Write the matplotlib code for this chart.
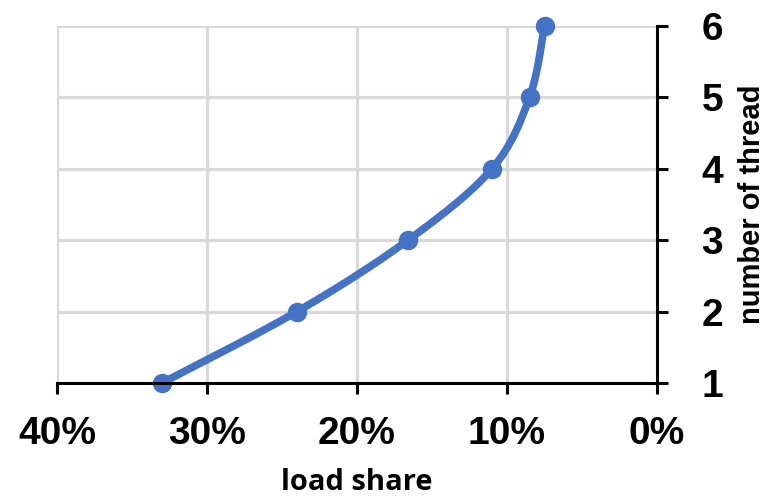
import numpy as np
import matplotlib
matplotlib.use("Agg")
import matplotlib.pyplot as plt
from matplotlib.ticker import FuncFormatter

# ─── data ─────────────────────────────────────────────────────────────────────
load_share = [0.330, 0.240, 0.166, 0.110, 0.085, 0.075]
threads = [1, 2, 3, 4, 5, 6]
x_ticks = [0.40, 0.30, 0.20, 0.10, 0.0]

BLUE = "#4472C4"
GRID = "#D9D9D9"


def excel_smooth(xs, ys, n=40):
    """Excel-style smoothed line: cubic Bezier through points."""
    xs = np.asarray(xs, float)
    ys = np.asarray(ys, float)
    px, py = [], []
    m = len(xs)
    for i in range(m - 1):
        x0, y0 = (xs[i - 1], ys[i - 1]) if i > 0 else (xs[i], ys[i])
        x1, y1 = xs[i], ys[i]
        x2, y2 = xs[i + 1], ys[i + 1]
        x3, y3 = (xs[i + 2], ys[i + 2]) if i + 2 < m else (x2, y2)
        c1x, c1y = x1 + (x2 - x0) / 6, y1 + (y2 - y0) / 6
        c2x, c2y = x2 - (x3 - x1) / 6, y2 - (y3 - y1) / 6
        t = np.linspace(0, 1, n)
        a, b, c, d = (1 - t) ** 3, 3 * (1 - t) ** 2 * t, 3 * (1 - t) * t ** 2, t ** 3
        px.extend(a * x1 + b * c1x + c * c2x + d * x2)
        py.extend(a * y1 + b * c1y + c * c2y + d * y2)
    return np.array(px), np.array(py)


fig = plt.figure(figsize=(7.70, 4.99), dpi=100)
ax = fig.add_axes([57 / 770, 1 - 383 / 499, 600 / 770, 357 / 499])

sx, sy = excel_smooth(load_share, threads)
ax.plot(sx, sy, color=BLUE, lw=5.5, solid_capstyle="round", zorder=3, clip_on=False)
ax.plot(load_share, threads, "o", color=BLUE, ms=13, zorder=4, clip_on=False)

ax.set_xlim(0.40, 0.0)
ax.set_ylim(1, 6)
ax.set_xticks(x_ticks)
ax.xaxis.set_major_formatter(FuncFormatter(lambda v, _: f"{v * 100:.0f}%"))
ax.set_yticks(threads)

# gridlines (drawn manually so the spine positions stay clean)
for xv in x_ticks[:-1]:
    ax.axvline(xv, color=GRID, lw=2.3, zorder=1)
for yv in threads[1:]:
    ax.axhline(yv, color=GRID, lw=2.3, zorder=1)

ax.yaxis.tick_right()
ax.yaxis.set_label_position("right")
for s in ("left", "top"):
    ax.spines[s].set_visible(False)
for s in ("right", "bottom"):
    ax.spines[s].set_linewidth(2.2)
    ax.spines[s].set_color("black")
    ax.spines[s].set_zorder(5)

ax.tick_params(axis="both", direction="out", length=8, width=2.2, color="black")
ax.tick_params(axis="x", pad=16)
ax.tick_params(axis="y", pad=24)
for lab in ax.get_xticklabels() + ax.get_yticklabels():
    lab.set_fontfamily("Liberation Sans")
    lab.set_fontweight("bold")
    lab.set_fontsize(28)

ax.set_xlabel("load share", fontfamily="Open Sans", fontweight="bold",
              fontsize=21, labelpad=11)
ax.set_ylabel("number of thread", fontfamily="Liberation Sans",
              fontweight="bold", fontsize=21, labelpad=11)

fig.savefig("out.png", dpi=100)
